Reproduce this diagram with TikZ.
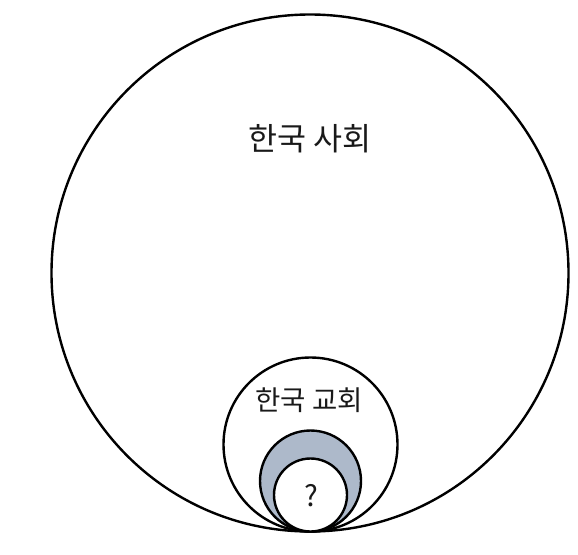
\documentclass[tikz,border=0pt]{standalone}
\usepackage{fontspec}
\setmainfont{Noto Sans CJK KR}
\definecolor{ringfill}{RGB}{173,185,202}
\begin{document}
\begin{tikzpicture}[x=1pt,y=-1pt,
  ring/.style={circle,draw=black,line width=2.4pt,inner sep=0pt,outer sep=0pt},
  lbl/.style={inner sep=0pt,text=black!90}]
\useasboundingbox (0,0) rectangle (578,554);
\node[ring,fill=white,minimum size=517pt] (society) at (310,273) {};
\node[ring,fill=white,minimum size=174pt] (church) at (310.5,444.5) {};
\node[ring,fill=ringfill,minimum size=101pt] (ringg) at (310.5,481) {};
\node[ring,fill=white,minimum size=73pt] (core) at (310.5,495) {};
\node[lbl,font=\fontsize{31.5}{34}\selectfont] (tsoc) at (310,139) {한국 사회};
\node[lbl,font=\fontsize{27.5}{30}\selectfont] (tch) at (309,400) {한국 교회};
\node[lbl,font=\fontsize{29}{32}\selectfont] (tq) at (311,496) {?};
\end{tikzpicture}
\end{document}
